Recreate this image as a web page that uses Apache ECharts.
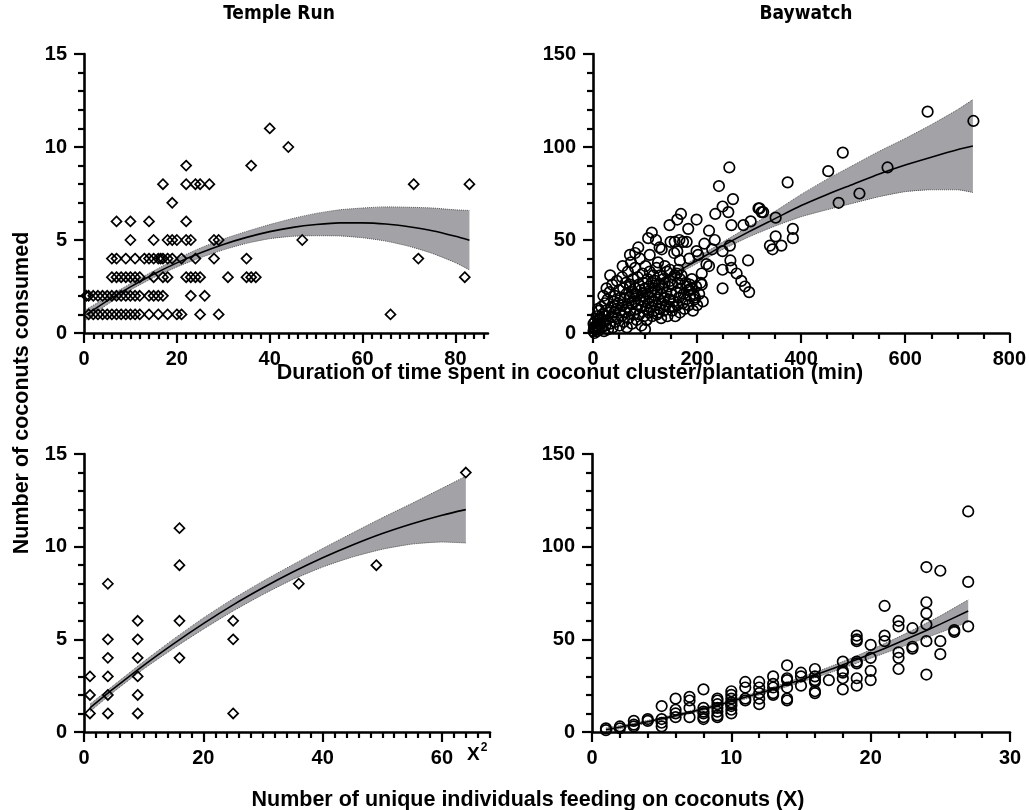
<!DOCTYPE html>
<html><head><meta charset="utf-8">
<script src="https://cdn.jsdelivr.net/npm/echarts@6/dist/echarts.min.js"></script>
<style>html,body{margin:0;padding:0;background:#fff}#c{width:1029px;height:810px}</style>
</head><body><div id="c"></div>
<script>
// ---------- Titles / labels ----------
const panelTitles = ['Temple Run', 'Baywatch'];
const yTitle = 'Number of coconuts consumed';
const xTitleTop = 'Duration of time spent in coconut cluster/plantation (min)';
const xTitleBottom = 'Number of unique individuals feeding on coconuts (X)';

// ---------- Tick labels ----------
const ticksTRdurX = [0, 20, 40, 60, 80];
const ticksTRy = [0, 5, 10, 15];
const ticksBWdurX = [0, 200, 400, 600, 800];
const ticksBWy = [0, 50, 100, 150];
const ticksTRindX = [0, 20, 40, 60];
const ticksBWindX = [0, 10, 20, 30];

// ---------- Temple Run: duration (min) vs coconuts ----------
const trDurPoints = [
  [1,1],[2,1],[3,1],[4,1],[5,1],[6,1],[7,1],[8,1],[9,1],[10,1],[11,1],[12,1],[14,1],[16,1],[18,1],[20,1],[21,1],[25,1],[29,1],[66,1],
  [0.5,2],[1,2],[2,2],[3,2],[4,2],[5,2],[6,2],[7,2],[8,2],[9,2],[10,2],[11,2],[12,2],[14,2],[15,2],[16,2],[17,2],[23,2],[26,2],
  [6,3],[7,3],[8,3],[9,3],[10,3],[11,3],[12,3],[15,3],[17,3],[18,3],[22,3],[23,3],[24,3],[25,3],[31,3],[35,3],[36,3],[37,3],[82,3],
  [6,4],[7,4],[9,4],[11,4],[13,4],[14,4],[15,4],[16,4],[16.5,4],[17,4],[18,4],[19,4],[21,4],[24,4],[28,4],[35,4],[72,4],
  [10,5],[15,5],[18,5],[19,5],[20,5],[22,5],[23,5],[28,5],[29,5],[47,5],
  [7,6],[10,6],[14,6],[22,6],
  [19,7],
  [17,8],[22,8],[24,8],[25,8],[27,8],[71,8],[83,8],
  [22,9],[36,9],
  [44,10],
  [40,11]
];
const trDurFitX  = [0.5, 5, 10, 15, 20, 25, 30, 35, 40, 45, 50, 55, 60, 65, 70, 75, 80, 83];
const trDurFit   = [0.99,1.73,2.48,3.16,3.77,4.30,4.76,5.14,5.45,5.68,5.83,5.92,5.92,5.86,5.71,5.50,5.20,4.99];
const trDurUpper = [1.27,1.93,2.65,3.34,3.99,4.56,5.05,5.46,5.83,6.16,6.43,6.62,6.72,6.78,6.76,6.72,6.62,6.59];
const trDurLower = [0.71,1.53,2.31,2.98,3.55,4.04,4.47,4.82,5.07,5.20,5.23,5.22,5.12,4.94,4.66,4.28,3.78,3.39];

// ---------- Baywatch: duration (min) vs coconuts ----------
const bwDurPoints = [
  [643,119],[731,114],[480,97],[452,87],[566,89],[374,81],[512,75],[472,70],[351,62],[327,65],[320,67],[384,56],[384,51],[351,52],[340,47],[345,45],[362,47],
  [262,89],[242,79],[269,72],[249,68],[260,65],[235,64],[266,58],[223,55],[234,50],[263,47],[249,44],[264,39],[266,35],[249,34],[249,24],[298,39],[289,58],[303,60],[318,67],[324,65],
  [202,42],[199,61],[183,56],[185,40],[189,24],[166,50],[162,44],[167,39],[164,34],[157,49],[173,49],[180,49],[218,37],[223,36],[209,32],[209,26],[193,21],[186,23],
  [147,58],[162,61],[169,64],[132,45],[113,54],[106,51],[121,50],[87,46],[71,42],[156,43],[199,44],[149,49],[128,46],[81,43],[109,42],[125,38],[138,36],[148,34],[161,32],[167,29],[186,26],[183,23],[148,18],[156,14],[125,11],[100,2],[33,31],[57,36],[26,24],[20,20],[10,13],[1,5],[71,26],[81,21],
  [276,32],[285,28],[292,25],[300,22],[229,45],[214,48],[196,19],[181,25],[170,31],[103,7],
  [1,1],[2,3],[3,0],[4,6],[5,2],[6,4],[7,9],[8,1],[9,5],[10,3],[11,7],[12,12],[13,2],[14,8],[15,5],[16,14],[17,3],[18,10],[19,6],[21,1],[22,9],[23,16],[24,4],[25,12],
  [27,7],[28,18],[29,2],[31,11],[32,22],[33,5],[35,14],[36,9],[37,26],[38,3],[40,17],[41,11],[42,20],[43,6],[45,13],[46,28],[47,8],[48,16],[50,23],[51,4],[52,12],[53,19],[55,9],[56,30],[57,15],[58,24],[59,6],[60,18],
  [62,11],[63,27],[64,21],[65,3],[66,14],[67,33],[68,8],[70,19],[71,25],[72,12],[73,38],[74,16],[75,5],[76,22],[77,29],[78,10],[80,17],[81,35],[82,24],[83,13],[84,7],[85,20],[86,30],[87,15],[88,26],[89,10],[90,40],[91,18],[92,23],[93,4],[94,14],[95,32],[96,20],[97,27],[98,9],[99,17],[100,24],
  [101,36],[102,13],[103,7],[104,21],[105,29],[106,16],[107,11],[108,25],[109,33],[110,19],[111,14],[112,22],[113,27],[114,9],[115,17],[116,31],[117,12],[118,24],[119,20],[120,28],[121,15],[122,35],[123,10],[124,22],[126,18],[127,26],[128,13],[129,31],[130,21],[131,8],[132,16],[133,24],[135,29],[136,12],[137,19],[138,27],[140,15],[141,22],[142,33],[143,9],[145,25],[146,18],[147,14],[148,28],[150,21],
  [152,12],[153,26],[155,17],[157,31],[158,9],[160,22],[162,15],[163,27],[165,19],[167,11],[168,24],[172,16],[174,21],[176,13],[178,27],[179,18],[184,15],[187,20],[190,29],[192,12],[195,18],[198,25],[200,15],[204,21],[207,27],[211,17]
];
const bwDurFitX  = [0, 50, 100, 150, 200, 250, 300, 350, 400, 450, 500, 550, 600, 650, 700, 730];
const bwDurFit   = [3, 13, 22, 31, 39, 47, 54.5, 61.5, 68.5, 74.5, 80, 85.5, 90.3, 94.5, 98.5, 100.5];
const bwDurUpper = [4.5, 14.2, 23.1, 32.3, 40.6, 49, 57.3, 65.5, 74.5, 82.7, 90.2, 97.7, 104.6, 112, 120, 125.5];
const bwDurLower = [1.5, 11.8, 20.9, 29.7, 37.4, 45, 51.7, 57.5, 62.5, 66.3, 69.8, 73.3, 76, 77, 77, 75.5];

// ---------- Temple Run: individuals (X^2) vs coconuts ----------
const trIndPoints = [
  [1,3],[1,2],[1,1],
  [4,8],[4,5],[4,4],[4,3],[4,2],[4,1],
  [9,6],[9,5],[9,4],[9,3],[9,2],[9,1],
  [16,11],[16,9],[16,6],[16,4],
  [25,6],[25,5],[25,1],
  [36,8],[49,9],[64,14]
];
const trIndFitX  = [1, 5, 10, 15, 20, 25, 30, 35, 40, 45, 50, 55, 60, 64];
const trIndFit   = [1.3, 2.35, 3.60, 4.76, 5.85, 6.86, 7.78, 8.63, 9.40, 10.09, 10.71, 11.24, 11.70, 12.0];
const trIndUpper = [1.5, 2.53, 3.8, 5.01, 6.15, 7.19, 8.14, 9.03, 9.9, 10.74, 11.56, 12.34, 13.15, 13.8];
const trIndLower = [1.1, 2.17, 3.4, 4.51, 5.55, 6.53, 7.42, 8.23, 8.9, 9.44, 9.86, 10.14, 10.25, 10.2];

// ---------- Baywatch: individuals (X) vs coconuts ----------
const bwIndPoints = [
  [1,2],[1,1],[2,3],[2,2],[3,6],[3,4],[3,3],[4,7],[4,6],
  [5,14],[5,7],[5,5],[5,3],[6,18],[6,12],[6,10],[6,8],[7,19],[7,17],[7,13],[7,8],
  [8,23],[8,13],[8,11],[8,10],[8,8],[8,7],[9,18],[9,17],[9,15],[9,13],[9,11],[9,9],[9,8],
  [10,22],[10,20],[10,18],[10,16],[10,15],[10,14],[10,12],[10,10],
  [11,27],[11,24],[11,18],[11,17],[12,27],[12,24],[12,21],[12,18],[12,15],
  [13,30],[13,26],[13,24],[13,21],[13,20],[14,36],[14,29],[14,28],[14,24],[14,18],[14,17],
  [15,32],[15,30],[15,25],[16,34],[16,30],[16,28],[16,27],[16,22],[16,21],[17,28],
  [18,38],[18,33],[18,32],[18,29],[18,23],[19,52],[19,50],[19,49],[19,38],[19,37],[19,29],[19,25],
  [20,47],[20,40],[20,33],[20,28],[21,68],[21,52],[21,49],[22,60],[22,57],[22,43],[22,40],[22,34],
  [23,56],[23,46],[23,45],[24,89],[24,70],[24,64],[24,58],[24,49],[24,31],[25,87],[25,49],[25,42],
  [26,55],[26,54],[27,119],[27,81],[27,57]
];
const bwIndFitX  = [1, 3, 5, 7, 9, 11, 13, 15, 17, 19, 21, 23, 25, 27];
const bwIndFit   = [1.2, 4.0, 7.1, 10.6, 14.4, 18.7, 23.2, 28.2, 33.4, 39.1, 45.1, 51.5, 58.2, 65.3];
const bwIndUpper = [2.1, 4.8, 7.85, 11.35, 15.2, 19.6, 24.25, 29.5, 35.0, 41.1, 47.7, 54.9, 62.7, 71.3];
const bwIndLower = [0.3, 3.2, 6.35, 9.85, 13.6, 17.8, 22.15, 26.9, 31.8, 37.1, 42.5, 48.1, 53.7, 59.3];

// ---------- Build chart ----------
const FONT = "'Liberation Sans', Arial, Helvetica, sans-serif";
const NARROW = "'Liberation Sans Narrow', 'DejaVu Sans Condensed', 'Liberation Sans', sans-serif";

function axisCommon(gi, max, interval, split, ticks, margin) {
  return {
    type: 'value', gridIndex: gi, min: 0, max: max, interval: interval,
    axisLine: { show: true, onZero: false, lineStyle: { color: '#000', width: 2.6 } },
    axisTick: { show: true, length: 10, customValues: ticks, lineStyle: { color: '#000', width: 2.2 } },
    minorTick: { show: true, splitNumber: split, length: 6, lineStyle: { color: '#000', width: 2.2 } },
    axisLabel: { customValues: ticks, margin: margin, color: '#000', fontSize: 20, fontWeight: 'bold', fontFamily: FONT },
    splitLine: { show: false }, minorSplitLine: { show: false }, z: 10
  };
}
function xAxis(gi, max, interval, split, ticks) { return axisCommon(gi, max, interval, split, ticks, 16); }
function yAxis(gi, max, interval, split, ticks) { return axisCommon(gi, max, interval, split, ticks, 17); }

function bandSeries(gi, xs, lo, hi) {
  const data = xs.map((x, i) => [x, lo[i], hi[i]]);
  return {
    type: 'custom', xAxisIndex: gi, yAxisIndex: gi, data: data, silent: true, z: 1,
    encode: { x: 0, y: [1, 2] },
    renderItem: function (params, api) {
      if (params.dataIndex !== 0) return null;
      const pts = [];
      for (let i = 0; i < xs.length; i++) pts.push(api.coord([xs[i], hi[i]]));
      for (let i = xs.length - 1; i >= 0; i--) pts.push(api.coord([xs[i], lo[i]]));
      return { type: 'polygon', shape: { points: pts }, style: { fill: '#a2a2a7', stroke: null } };
    }
  };
}
function lineSeries(gi, xs, ys, dotted) {
  return {
    type: 'line', xAxisIndex: gi, yAxisIndex: gi, data: xs.map((x, i) => [x, ys[i]]),
    showSymbol: false, smooth: 0.25, silent: true, z: dotted ? 2 : 4,
    lineStyle: dotted ? { color: '#555', width: 1, type: 'dotted' } : { color: '#000', width: 1.6 }
  };
}
function scatterSeries(gi, pts, symbol, size) {
  return {
    type: 'scatter', xAxisIndex: gi, yAxisIndex: gi, data: pts, symbol: symbol, symbolSize: size,
    silent: true, z: 5,
    itemStyle: { color: 'rgba(0,0,0,0)', borderColor: '#000', borderWidth: 1.7, opacity: 1 }
  };
}
function panel(gi, pts, symbol, size, xs, fit, lo, hi) {
  return [
    bandSeries(gi, xs, lo, hi),
    lineSeries(gi, xs, hi, true),
    lineSeries(gi, xs, lo, true),
    lineSeries(gi, xs, fit, false),
    scatterSeries(gi, pts, symbol, size)
  ];
}

const chart = echarts.init(document.getElementById('c'), null, { renderer: 'canvas' });
chart.setOption({
  animation: false,
  backgroundColor: '#fff',
  grid: [
    { left: 84, top: 54, width: 404, height: 279 },
    { left: 593, top: 54, width: 417, height: 279 },
    { left: 84, top: 454, width: 406, height: 278 },
    { left: 592, top: 454, width: 418, height: 278 }
  ],
  xAxis: [
    xAxis(0, 87, 20, 10, ticksTRdurX),
    xAxis(1, 800, 200, 4, ticksBWdurX),
    xAxis(2, 68.05, 20, 10, ticksTRindX),
    xAxis(3, 30, 10, 5, ticksBWindX)
  ],
  yAxis: [
    yAxis(0, 15, 5, 5, ticksTRy),
    yAxis(1, 150, 50, 5, ticksBWy),
    yAxis(2, 15, 5, 5, ticksTRy),
    yAxis(3, 150, 50, 5, ticksBWy)
  ],
  series: [].concat(
    panel(0, trDurPoints, 'diamond', 10, trDurFitX, trDurFit, trDurLower, trDurUpper),
    panel(1, bwDurPoints, 'circle', 10.5, bwDurFitX, bwDurFit, bwDurLower, bwDurUpper),
    panel(2, trIndPoints, 'diamond', 10, trIndFitX, trIndFit, trIndLower, trIndUpper),
    panel(3, bwIndPoints, 'circle', 10.5, bwIndFitX, bwIndFit, bwIndLower, bwIndUpper)
  ),
  graphic: [
    { type: 'text', x: 279, y: 14, style: { text: panelTitles[0], fontFamily: NARROW, fontWeight: 'bold', fontSize: 19, fill: '#000', align: 'center', verticalAlign: 'middle' } },
    { type: 'text', x: 806, y: 14, style: { text: panelTitles[1], fontFamily: NARROW, fontWeight: 'bold', fontSize: 19, fill: '#000', align: 'center', verticalAlign: 'middle' } },
    { type: 'text', x: 22, y: 393, rotation: Math.PI / 2, style: { text: yTitle, fontFamily: FONT, fontWeight: 'bold', fontSize: 21.5, fill: '#000', align: 'center', verticalAlign: 'middle' } },
    { type: 'text', x: 570, y: 373, style: { text: xTitleTop, fontFamily: FONT, fontWeight: 'bold', fontSize: 21.5, fill: '#000', align: 'center', verticalAlign: 'middle' } },
    { type: 'text', x: 528, y: 800, style: { text: xTitleBottom, fontFamily: FONT, fontWeight: 'bold', fontSize: 21.5, fill: '#000', align: 'center', verticalAlign: 'middle' } },
    { type: 'text', x: 467, y: 742, style: { text: '{a|X}{b|2}', fill: '#000', rich: { a: { fontFamily: FONT, fontWeight: 'bold', fontSize: 19, verticalAlign: 'bottom', lineHeight: 22 }, b: { fontFamily: FONT, fontWeight: 'bold', fontSize: 12, verticalAlign: 'top', lineHeight: 22, padding: [0, 0, 10, 1] } } } }
  ]
});
</script></body></html>
